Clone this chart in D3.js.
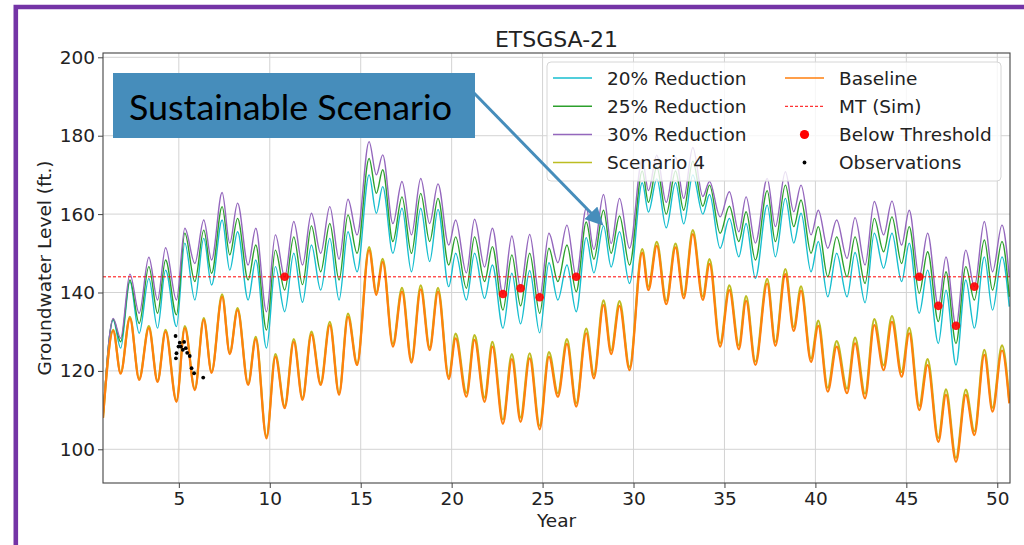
<!DOCTYPE html>
<html>
<head>
<meta charset="utf-8">
<script src="https://cdn.jsdelivr.net/npm/d3@7/dist/d3.min.js"></script>
<style>
  body { margin: 0; background: #fff; }
  svg { display: block; font-family: "DejaVu Sans", sans-serif; }
</style>
</head>
<body>
<div id="chart"></div>
<script>
// times (year) of each seasonal peak / trough, shared by all series
const years = [0.83, 1.39, 1.80, 2.31, 2.82, 3.35, 3.83, 4.27, 4.87, 5.33,
  5.88, 6.37, 6.80, 7.38, 7.80, 8.23, 8.81, 9.23, 9.82, 10.31,
  10.82, 11.32, 11.80, 12.29, 12.80, 13.30, 13.81, 14.30, 14.80, 15.46,
  15.86, 16.21, 16.77, 17.27, 17.79, 18.30, 18.79, 19.25, 19.84, 20.22,
  20.81, 21.26, 21.81, 22.24, 22.82, 23.31, 23.79, 24.29, 24.84, 25.35,
  25.84, 26.34, 26.85, 27.40, 27.82, 28.35, 28.77, 29.23, 29.78, 30.48,
  30.82, 31.28, 31.80, 32.31, 32.76, 33.26, 33.81, 34.18, 34.76, 35.27,
  35.79, 36.19, 36.70, 37.35, 37.80, 38.35, 38.81, 39.21, 39.76, 40.16,
  40.68, 41.17, 41.74, 42.18, 42.73, 43.24, 43.75, 44.21, 44.74, 45.16,
  45.71, 46.17, 46.76, 47.18, 47.73, 48.27, 48.74, 49.29, 49.74, 50.26,
  50.66];

const red20 = [108, 133, 125.8, 142.8, 129.6, 143.6, 130.9, 145.7, 131.3, 152.6,
  138.1, 153.8, 141.9, 158.5, 145.7, 155.5, 138.1, 148.3, 125.8, 146.6,
  135.1, 150, 137.5, 152.1, 140.6, 153.8, 138.1, 155.5, 145.3, 170,
  160.2, 167, 150, 161.5, 145.3, 161.5, 147.9, 161.2, 141.5, 150,
  138.1, 150, 138.5, 147, 130.9, 144.9, 132, 145.6, 129.7, 147.6,
  138.1, 147, 135.1, 154, 145, 157, 146.5, 155.5, 142.3, 168,
  160.5, 169, 156.5, 168, 157.5, 170, 160, 165, 151.3, 158.9,
  149.1, 157.6, 143.6, 162.3, 149.1, 164, 152.6, 160.2, 145.3, 153,
  138.9, 150, 138.9, 150.2, 137.4, 155.1, 146.2, 155.1, 142.8, 152.6,
  134.7, 145.7, 127, 140.6, 121.5, 143.2, 130.9, 149.1, 135.5, 149.1,
  136.4];

const red25 = [108, 133.2, 127.4, 143.2, 132.1, 146.6, 134.7, 148.3, 134.3, 155.1,
  142.8, 155.9, 144.9, 161.9, 149.6, 158.9, 143.2, 152.1, 130.4, 150.8,
  140.6, 154.2, 142, 157, 145.3, 157.6, 143.2, 159.8, 150, 174.2,
  165.3, 171.3, 153, 164.4, 150, 165.3, 153, 164, 147, 154.2,
  141.1, 154.2, 142.8, 151.7, 135.5, 149.6, 136.6, 150, 134.7, 151.3,
  142.8, 152.1, 140.2, 158, 148.5, 161, 150, 159.5, 147, 171,
  163, 172, 160, 171, 161, 173.5, 162, 167.4, 155.1, 162,
  153, 160.6, 148.3, 166, 153, 167.4, 156.8, 163.6, 150, 156.8,
  144, 154.2, 144, 154.2, 142.3, 158.9, 150.4, 159.3, 147.4, 156.8,
  139.8, 150.4, 132.6, 145.3, 127, 146.6, 138.1, 153.4, 140.6, 153,
  138.9];

const red30 = [108, 133.4, 128.3, 144.7, 134.7, 149, 138.1, 151.4, 138.1, 156.4,
  147.4, 158.5, 148.3, 165.5, 152.6, 162.8, 147, 156.4, 135.1, 154.7,
  144, 158.1, 147, 160.2, 150, 161.9, 148.5, 163.8, 154.7, 178.5,
  170, 175.1, 157.6, 168.3, 154.7, 169.1, 157.6, 167.7, 152.1, 158.5,
  145, 158.7, 146.5, 156.4, 139.6, 154.4, 141.1, 154.8, 138.8, 155.1,
  147.6, 157.2, 144, 161.5, 151, 165, 152.5, 164, 151.3, 174,
  166, 175, 163, 174.5, 164, 177, 164.5, 168.3, 159.3, 165.7,
  155.5, 164.4, 152.6, 169.1, 156.8, 170.8, 160.6, 167.4, 154.7, 161,
  151.3, 158.5, 148.7, 159.1, 147, 163.2, 154.7, 163.3, 152.1, 161,
  144, 155.1, 136.6, 149.1, 131.5, 150.8, 141.5, 158.1, 145.3, 157.2,
  144];

const scenario4 = [108, 130.5, 119.5, 133.8, 118, 131.4, 117.5, 130.5, 112.5, 131.4,
  115.4, 133.5, 119.8, 139.5, 124.6, 136, 116.8, 128.7, 103.3, 124.3,
  111, 128.1, 113.1, 130, 116.9, 132.5, 114.4, 134.6, 122, 151.6,
  140, 148.6, 126.9, 141.2, 122.8, 141.8, 126, 141.2, 118.6, 129.5,
  114.4, 129.1, 113.2, 127.4, 107.6, 124.3, 108.1, 124.5, 106, 124.8,
  114.3, 128.1, 111.8, 130.8, 119, 138, 125.2, 137.8, 121, 151.1,
  141.5, 152.9, 137.9, 152.5, 139.4, 155.9, 139, 148.5, 127.1, 141.8,
  126.5, 139.1, 122.4, 143.5, 127.4, 146, 131.2, 141.6, 123.2, 132.8,
  115.7, 127.6, 115.5, 128.5, 114.2, 133.2, 121.4, 134, 119.7, 131,
  111.1, 123, 102.9, 115.3, 97.8, 115.2, 104.6, 125.4, 110.6, 126.5,
  112.5];

const baseline = [108, 130.2, 119.3, 133.4, 117.7, 130.9, 117.2, 130, 112.1, 130.9,
  115.1, 133, 119.5, 138.9, 124.3, 135.5, 116.4, 128.1, 102.8, 123.6,
  110.5, 127.4, 112.6, 129.3, 116.4, 131.7, 113.9, 133.8, 121.5, 150.8,
  139.4, 147.8, 126.2, 140.2, 122.1, 140.8, 125.3, 140.2, 117.9, 128.3,
  113.4, 127.9, 112.1, 126.2, 106.5, 123, 107, 123.2, 105.1, 123.6,
  113.4, 126.9, 110.9, 129.6, 118.1, 136.8, 124.3, 136.6, 120.2, 150.1,
  140.6, 151.9, 137, 151.5, 138.5, 154.9, 138.1, 147.3, 126.2, 140.6,
  125.5, 137.9, 121.5, 142.3, 126.4, 144.7, 130.2, 140.4, 122.3, 131.5,
  114.7, 126.2, 114.3, 127, 113, 131.7, 120.2, 132.5, 118.5, 129.6,
  110, 121.5, 101.9, 113.9, 96.8, 113.9, 103.6, 124.1, 109.6, 125.2,
  111.7];

const mtLevel = 144;

const belowYears = [10.82, 22.82, 23.79, 24.84, 26.85, 45.71, 46.76, 47.73, 48.74];
const belowLevels = [144, 139.6, 141.1, 138.8, 144, 144, 136.6, 131.5, 141.5];

const obsYears = [4.82, 5.05, 5.29, 5.11, 4.98, 5.38, 4.87, 5.46, 5.60, 4.84, 5.22, 5.70, 5.84, 6.34];
const obsLevels = [128.9, 127.2, 127.4, 126.2, 126.2, 125.8, 124.5, 124.6, 123.8, 123.2, 125.4, 120.7, 119.4, 118.3];

const xTicks = [5, 10, 15, 20, 25, 30, 35, 40, 45, 50];
const yTicks = [100, 120, 140, 160, 180, 200];

const lineNames = ['20% Reduction', '25% Reduction', '30% Reduction', 'Scenario 4', 'Baseline'];
const lineValues = [red20, red25, red30, scenario4, baseline];

// styles
const lineColors = ['#17becf', '#2ca02c', '#9467bd', '#bcbd22', '#ff7f0e'];
const lineWidths = [1.4, 1.4, 1.4, 2.2, 2.2];

const width = 1024, height = 545;
const plot = { left: 103, right: 1010, top: 53, bottom: 483 };

const svg = d3.select('#chart').append('svg')
  .attr('width', width)
  .attr('height', height);

svg.append('rect').attr('width', width).attr('height', height).attr('fill', '#fff');

// slide frame
svg.append('path')
  .attr('d', 'M15.8,' + height + ' V7 H' + width)
  .attr('fill', 'none')
  .attr('stroke', '#7434a6')
  .attr('stroke-width', 4.6);

const x = d3.scaleLinear().domain([0.83, 50.7]).range([plot.left, plot.right]);
const y = d3.scaleLinear().domain([91.4, 201.1]).range([plot.bottom, plot.top]);

// grid
const grid = svg.append('g').attr('stroke', '#d3d3d3').attr('stroke-width', 1);
grid.selectAll('.gx').data(xTicks).enter().append('line')
  .attr('x1', d => x(d)).attr('x2', d => x(d))
  .attr('y1', plot.top).attr('y2', plot.bottom);
grid.selectAll('.gy').data(yTicks).enter().append('line')
  .attr('x1', plot.left).attr('x2', plot.right)
  .attr('y1', d => y(d)).attr('y2', d => y(d));

// clip for the data
svg.append('clipPath').attr('id', 'clip')
  .append('rect')
  .attr('x', plot.left).attr('y', plot.top)
  .attr('width', plot.right - plot.left).attr('height', plot.bottom - plot.top);

const dataG = svg.append('g').attr('clip-path', 'url(#clip)');

const line = d3.line()
  .x(d => x(d[0]))
  .y(d => y(d[1]))
  .curve(d3.curveMonotoneX);

lineValues.forEach((vals, i) => {
  dataG.append('path')
    .datum(years.map((t, j) => [t, vals[j]]))
    .attr('d', line)
    .attr('fill', 'none')
    .attr('stroke', lineColors[i])
    .attr('stroke-width', lineWidths[i])
    .attr('stroke-linejoin', 'round');
});

// MT (Sim)
dataG.append('line')
  .attr('x1', plot.left).attr('x2', plot.right)
  .attr('y1', y(mtLevel)).attr('y2', y(mtLevel))
  .attr('stroke', '#ff0000')
  .attr('stroke-width', 1)
  .attr('stroke-dasharray', '3,2');

// below threshold points
dataG.selectAll('.below')
  .data(belowYears.map((t, i) => [t, belowLevels[i]]))
  .enter().append('circle')
  .attr('cx', d => x(d[0]))
  .attr('cy', d => y(d[1]))
  .attr('r', 4.3)
  .attr('fill', '#ff0000')
  .attr('opacity', 0.9);

// observations
dataG.selectAll('.obs')
  .data(obsYears.map((t, i) => [t, obsLevels[i]]))
  .enter().append('circle')
  .attr('cx', d => x(d[0]))
  .attr('cy', d => y(d[1]))
  .attr('r', 1.9)
  .attr('fill', '#000');

// axes
const xAxis = svg.append('g')
  .attr('transform', 'translate(0,' + plot.bottom + ')')
  .call(d3.axisBottom(x).tickValues(xTicks).tickSize(5).tickPadding(4).tickSizeOuter(0));
const yAxis = svg.append('g')
  .attr('transform', 'translate(' + plot.left + ',0)')
  .call(d3.axisLeft(y).tickValues(yTicks).tickSize(5).tickPadding(3).tickSizeOuter(0));

[xAxis, yAxis].forEach(a => {
  a.selectAll('.domain').remove();
  a.selectAll('.tick line').attr('stroke', '#444');
  a.selectAll('.tick text')
    .attr('fill', '#222')
    .style('font-family', '"DejaVu Sans", sans-serif')
    .style('font-size', '18.5px');
});

// spines
svg.append('rect')
  .attr('x', plot.left).attr('y', plot.top)
  .attr('width', plot.right - plot.left).attr('height', plot.bottom - plot.top)
  .attr('fill', 'none')
  .attr('stroke', '#444')
  .attr('stroke-width', 1.1);

// titles
svg.append('text')
  .attr('x', (plot.left + plot.right) / 2).attr('y', 46.5)
  .attr('text-anchor', 'middle')
  .attr('fill', '#222')
  .style('font-size', '22px')
  .text('ETSGSA-21');

svg.append('text')
  .attr('x', (plot.left + plot.right) / 2).attr('y', 527)
  .attr('text-anchor', 'middle')
  .attr('fill', '#222')
  .style('font-size', '18.5px')
  .text('Year');

svg.append('text')
  .attr('transform', 'translate(51,' + (plot.top + plot.bottom) / 2 + ') rotate(-90)')
  .attr('text-anchor', 'middle')
  .attr('fill', '#222')
  .style('font-size', '18.5px')
  .text('Groundwater Level (ft.)');

// legend
const legend = svg.append('g');
legend.append('rect')
  .attr('x', 547).attr('y', 62)
  .attr('width', 454).attr('height', 119)
  .attr('rx', 4)
  .attr('fill', '#fff').attr('fill-opacity', 0.8)
  .attr('stroke', '#d6d6d6');

const legendItems = lineNames.map((n, i) => ({ label: n, kind: 'line', color: lineColors[i] }))
  .concat([
    { label: 'MT (Sim)', kind: 'dash', color: '#ff0000' },
    { label: 'Below Threshold', kind: 'dot', color: '#ff0000' },
    { label: 'Observations', kind: 'obs', color: '#000' }
  ]);

const rowY = [78, 106.3, 134.5, 162.5];
legendItems.forEach((it, i) => {
  const col = Math.floor(i / 4), row = i % 4;
  const hx = col === 0 ? 553 : 785;
  const cy = rowY[row];
  if (it.kind === 'line' || it.kind === 'dash') {
    legend.append('line')
      .attr('x1', hx).attr('x2', hx + 39)
      .attr('y1', cy).attr('y2', cy)
      .attr('stroke', it.color)
      .attr('stroke-width', it.kind === 'dash' ? 1 : 1.4)
      .attr('stroke-dasharray', it.kind === 'dash' ? '3,2' : null);
  } else {
    legend.append('circle')
      .attr('cx', hx + 19.5).attr('cy', cy)
      .attr('r', it.kind === 'dot' ? 4.6 : 1.9)
      .attr('fill', it.color);
  }
  legend.append('text')
    .attr('x', hx + 54).attr('y', cy + 6.7)
    .attr('fill', '#222')
    .style('font-size', '18.5px')
    .text(it.label);
});

// callout
const blue = '#468dbb';
svg.append('defs').append('marker')
  .attr('id', 'arrowhead')
  .attr('markerWidth', 6).attr('markerHeight', 6)
  .attr('refX', 1).attr('refY', 3)
  .attr('orient', 'auto')
  .attr('markerUnits', 'strokeWidth')
  .append('path')
  .attr('d', 'M0,0 L6,3 L0,6 Z')
  .attr('fill', blue);

svg.append('line')
  .attr('x1', 474).attr('y1', 93)
  .attr('x2', 593).attr('y2', 215)
  .attr('stroke', blue)
  .attr('stroke-width', 3)
  .attr('marker-end', 'url(#arrowhead)');

svg.append('rect')
  .attr('x', 113).attr('y', 73)
  .attr('width', 362).attr('height', 65)
  .attr('fill', blue);

svg.append('text')
  .attr('x', 129).attr('y', 120)
  .attr('fill', '#000')
  .attr('textLength', 323)
  .attr('lengthAdjust', 'spacingAndGlyphs')
  .style('font-family', 'Lato, "Open Sans", sans-serif')
  .style('font-size', '34px')
  .text('Sustainable Scenario');
</script>
</body>
</html>
